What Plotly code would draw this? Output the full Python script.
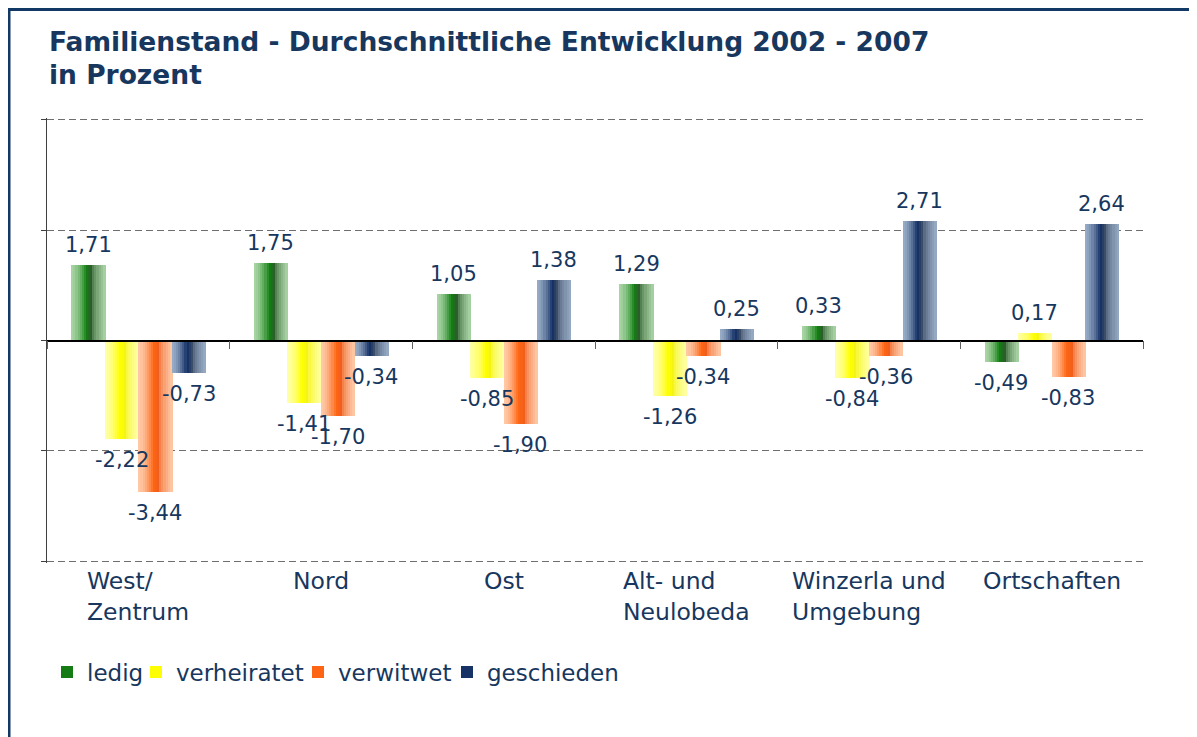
import plotly.graph_objects as go

categories = ["West/<br>Zentrum", "Nord", "Ost", "Alt- und<br>Neulobeda", "Winzerla und<br>Umgebung", "Ortschaften"]
series_names = ["ledig", "verheiratet", "verwitwet", "geschieden"]
ledig = [1.71, 1.75, 1.05, 1.29, 0.33, -0.49]
verheiratet = [-2.22, -1.41, -0.85, -1.26, -0.84, 0.17]
verwitwet = [-3.44, -1.70, -1.90, -0.34, -0.36, -0.83]
geschieden = [-0.73, -0.34, 1.38, 0.25, 2.71, 2.64]
y_ticks = [-5, -2.5, 0, 2.5, 5]

values = [ledig, verheiratet, verwitwet, geschieden]
# (light, mid, dark) for gradient shading
palettes = [
    ((170, 213, 166), (18, 128, 18), (45, 92, 45)),
    ((255, 255, 165), (255, 255, 0), (245, 245, 20)),
    ((255, 202, 168), (255, 102, 20), (240, 95, 30)),
    ((152, 172, 198), (18, 46, 100), (62, 78, 104)),
]

TEXT = "#17375E"
FONT = "DejaVu Sans"

def lerp(a, b, f):
    f = max(0.0, min(1.0, f))
    return tuple(round(a[i] + (b[i] - a[i]) * f) for i in range(3))

def shade(pal, t):
    light, mid, dark = pal
    if t < 0.45:
        c = lerp(light, mid, (t / 0.45) ** 1.6)
    elif t < 0.6:
        c = lerp(mid, dark, (t - 0.45) / 0.15)
    else:
        c = lerp(dark, light, ((t - 0.6) / 0.4) ** 0.6)
    return "rgb(%d,%d,%d)" % c

# page coordinates (browser body has an 8px margin)
OFF = 8
W, H = 1197 - OFF, 737 - OFF
L, R, T, B = 47 - OFF, 1143 - OFF, 118 - OFF, 563 - OFF
def py(y):  # page y -> paper
    return (B - (y - OFF)) / (B - T)
def px(x):  # page x -> paper
    return ((x - OFF) - L) / (R - L)

xs = list(range(len(categories)))
group_w = 0.734
bw = group_w / 4
N = 16
sw = bw / N
legend_ids = ["legend", "legend2", "legend3", "legend4"]
legend_text_x = [87, 176, 338, 487]

fig = go.Figure()
annotations = []
for i, (name, vals, pal) in enumerate(zip(series_names, values, palettes)):
    base = -group_w / 2 + i * bw
    for j in range(N):
        t = (j + 0.5) / N
        fig.add_trace(go.Bar(
            x=xs, y=vals, name=name,
            offset=base + j * sw, width=sw + 0.004,
            marker=dict(color=shade(pal, t), line=dict(width=0)),
            legendgroup=name, showlegend=(j == 7), legend=legend_ids[i],
            hoverinfo="skip",
        ))
    for k, v in zip(xs, vals):
        annotations.append(dict(
            text=f"{v:.2f}".replace(".", ","), xref="x", yref="y",
            x=k + base + bw / 2, y=v, showarrow=False,
            xanchor="center", yanchor="bottom" if v >= 0 else "top",
            yshift=6 if v >= 0 else -7,
            font=dict(family=FONT, size=21, color=TEXT)))

annotations += [
    dict(text="<b>Familienstand - Durchschnittliche Entwicklung 2002 - 2007</b>",
         xref="paper", yref="paper", x=0, y=py(42), xanchor="left", yanchor="middle",
         showarrow=False, font=dict(family=FONT, size=26.5, color=TEXT)),
    dict(text="<b>in Prozent</b>",
         xref="paper", yref="paper", x=0, y=py(75), xanchor="left", yanchor="middle",
         showarrow=False, font=dict(family=FONT, size=26.5, color=TEXT)),
]
for k, c in enumerate(categories):
    annotations.append(dict(text=c, xref="x", yref="paper", x=xs[k], y=py(565),
                            xanchor="center", yanchor="top", align="left", showarrow=False,
                            font=dict(family=FONT, size=23.5, color=TEXT)))

legends = {}
for i, lid in enumerate(legend_ids):
    legends[lid] = dict(orientation="h", x=px(legend_text_x[i] - 40), y=py(672),
                        xanchor="left", yanchor="middle",
                        font=dict(family=FONT, size=23, color=TEXT),
                        bgcolor="rgba(0,0,0,0)")

fig.update_layout(
    width=W, height=H,
    margin=dict(l=L, r=W - R, t=T, b=H - B),
    paper_bgcolor="white", plot_bgcolor="white",
    barmode="overlay", bargap=0,
    showlegend=True,
    annotations=annotations,
    shapes=[dict(type="rect", xref="paper", yref="paper",
                 x0=px(9), x1=px(1260), y0=py(800), y1=py(OFF + 1.5),
                 line=dict(color="#123866", width=3), layer="above")],
    xaxis=dict(range=[-0.5, 5.5], tickvals=[k - 0.5 for k in range(len(categories) + 1)],
               showticklabels=False, ticks="outside", ticklen=8, tickcolor="#606060",
               showline=True, linecolor="black", linewidth=1.5,
               anchor="free", position=0.5, showgrid=False, zeroline=False),
    yaxis=dict(range=[-5.04, 5.04], tickvals=y_ticks, showticklabels=False,
               ticks="outside", ticklen=5, tickcolor="#404040",
               showline=True, linecolor="#404040", linewidth=1,
               showgrid=True, gridcolor="#6f6f6f", griddash="7px,4px", gridwidth=1,
               zeroline=False),
    **legends,
)

fig.write_html("out.html")
